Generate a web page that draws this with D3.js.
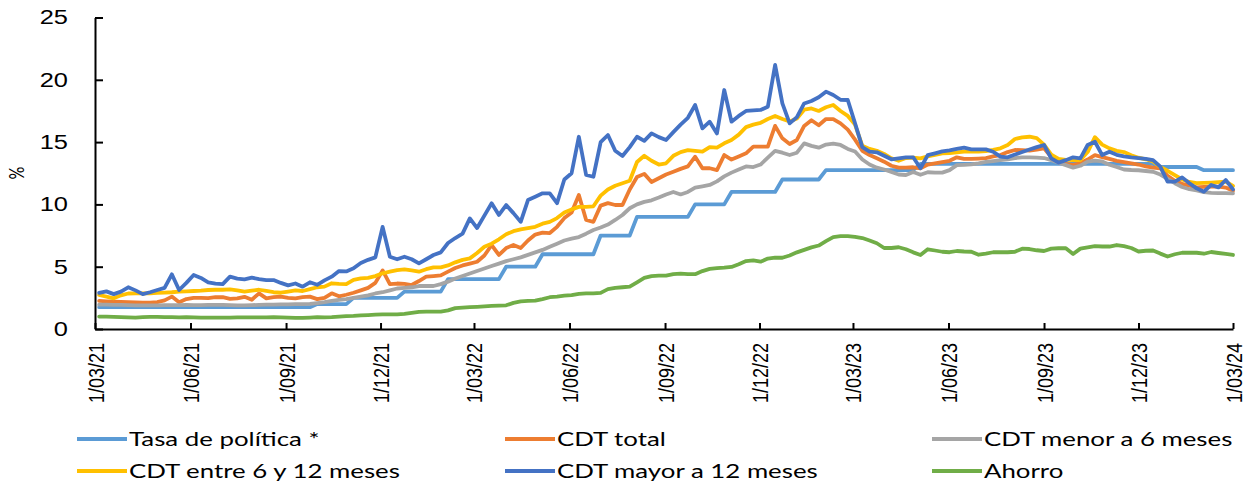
<!DOCTYPE html>
<html>
<head>
<meta charset="utf-8">
<script src="https://cdn.jsdelivr.net/npm/d3@7"></script>
<style>
  html, body { margin: 0; padding: 0; background: #fff; }
  svg { display: block; font-family: Lato, "Open Sans", sans-serif; }
</style>
</head>
<body>
<div id="chart"></div>
<script>
// weekly observations (Fridays), first one on 5 Mar 2021
var inicio = new Date(2021, 2, 5);

var tasaPolitica = [
  1.75,1.75,1.75,1.75,1.75,1.75,1.75,1.75,1.75,1.75,
  1.75,1.75,1.75,1.75,1.75,1.75,1.75,1.75,1.75,1.75,
  1.75,1.75,1.75,1.75,1.75,1.75,1.75,1.75,1.75,1.75,
  2,2,2,2,2,2.5,2.5,2.5,2.5,2.5,
  2.5,2.5,3,3,3,3,3,3,4,4,
  4,4,4,4,4,4,5,5,5,5,
  5,6,6,6,6,6,6,6,6,7.5,
  7.5,7.5,7.5,7.5,9,9,9,9,9,9,
  9,9,10,10,10,10,10,11,11,11,
  11,11,11,11,12,12,12,12,12,12,
  12.75,12.75,12.75,12.75,12.75,12.75,12.75,12.75,12.75,12.75,
  12.75,12.75,12.75,13.25,13.25,13.25,13.25,13.25,13.25,13.25,
  13.25,13.25,13.25,13.25,13.25,13.25,13.25,13.25,13.25,13.25,
  13.25,13.25,13.25,13.25,13.25,13.25,13.25,13.25,13.25,13.25,
  13.25,13.25,13.25,13.25,13.25,13.25,13,13,13,13,
  13,13,12.75,12.75,12.75,12.75,12.75
];

var cdtTotal = [
  2.25,2.22,2.19,2.17,2.15,2.13,2.11,2.12,2.15,2.3,
  2.6,2.15,2.4,2.5,2.5,2.48,2.55,2.55,2.42,2.45,
  2.58,2.35,2.86,2.46,2.55,2.6,2.5,2.46,2.55,2.6,
  2.4,2.5,2.86,2.62,2.75,2.91,3.1,3.3,3.7,4.7,
  3.6,3.65,3.62,3.53,3.85,4.2,4.25,4.3,4.6,4.9,
  5.1,5.25,5.4,5.9,6.74,5.94,6.5,6.74,6.5,7.1,
  7.58,7.73,7.7,8.2,8.9,9.35,10.75,8.75,8.6,9.9,
  10.1,9.95,9.95,11.2,12.2,12.45,11.8,12.1,12.4,12.62,
  12.85,13.05,13.83,12.9,12.9,12.75,13.96,13.6,13.85,14.1,
  14.63,14.63,14.63,16.3,15.3,14.85,15.17,16.3,16.75,16.35,
  16.85,16.85,16.5,16.0,15.2,14.3,13.96,13.7,13.43,13.1,
  12.95,12.95,12.98,12.9,13.2,13.3,13.4,13.5,13.78,13.66,
  13.65,13.68,13.72,13.85,13.96,14.2,14.37,14.35,14.32,14.4,
  14.5,13.8,13.4,13.25,13.18,13.3,13.6,13.96,13.8,13.65,
  13.5,13.4,13.3,13.2,13.05,12.95,12.9,12.3,11.9,11.65,
  11.5,11.37,11.4,11.42,11.42,11.35,11.1
];

var cdtMenor6 = [
  1.95,1.95,1.93,1.93,1.92,1.9,1.9,1.9,1.9,1.92,
  1.92,1.92,1.93,1.92,1.92,1.93,1.93,1.93,1.92,1.9,
  1.9,1.92,1.93,1.95,1.95,1.97,1.98,2.0,2.0,2.02,
  2.08,2.15,2.25,2.33,2.4,2.5,2.6,2.7,2.85,2.95,
  3.1,3.25,3.3,3.35,3.45,3.45,3.45,3.6,3.8,4.05,
  4.25,4.45,4.65,4.85,5.05,5.25,5.45,5.6,5.75,5.95,
  6.15,6.35,6.6,6.85,7.1,7.25,7.38,7.65,7.95,8.15,
  8.38,8.75,9.15,9.69,10.0,10.2,10.33,10.55,10.8,11.0,
  10.8,11.0,11.35,11.45,11.56,11.85,12.25,12.55,12.8,13.05,
  13.0,13.2,13.75,14.3,14.15,13.96,14.15,14.9,14.7,14.55,
  14.8,14.88,14.77,14.45,14.25,13.6,13.2,12.95,12.8,12.6,
  12.4,12.36,12.6,12.38,12.58,12.55,12.55,12.75,13.15,13.18,
  13.22,13.3,13.42,13.48,13.55,13.62,13.72,13.78,13.78,13.76,
  13.72,13.55,13.35,13.15,12.95,13.1,13.43,13.52,13.45,13.18,
  13.0,12.8,12.76,12.74,12.68,12.62,12.4,12.05,11.7,11.4,
  11.22,11.12,10.98,10.93,10.91,10.9,10.89
];

var cdtEntre6y12 = [
  2.73,2.6,2.46,2.7,2.85,2.86,2.86,2.86,2.9,2.92,
  2.95,3.0,3.02,3.05,3.08,3.13,3.15,3.15,3.18,3.1,
  3.0,3.08,3.15,3.05,2.95,2.91,3.0,3.1,3.05,3.2,
  3.35,3.4,3.67,3.62,3.6,3.95,4.07,4.1,4.25,4.47,
  4.6,4.73,4.79,4.7,4.6,4.8,4.95,4.95,5.1,5.35,
  5.55,5.67,6.1,6.6,6.85,7.2,7.6,7.85,8.0,8.1,
  8.2,8.45,8.6,8.9,9.35,9.6,9.8,9.8,9.85,10.7,
  11.2,11.5,11.7,11.9,13.4,13.9,13.5,13.2,13.3,13.9,
  14.2,14.35,14.3,14.23,14.6,14.55,14.9,15.17,15.6,16.2,
  16.4,16.55,16.85,17.1,16.85,16.65,16.9,17.6,17.7,17.5,
  17.8,17.98,17.5,17.1,16.4,14.7,14.45,14.3,14.05,13.7,
  13.5,13.72,13.75,13.7,13.85,13.98,14.1,14.12,14.18,14.23,
  14.23,14.23,14.28,14.37,14.5,14.77,15.25,15.38,15.43,15.32,
  14.8,14.0,13.65,13.58,13.56,13.56,14.2,15.4,14.8,14.5,
  14.3,14.2,13.95,13.75,13.62,13.45,13.0,12.7,12.35,12.0,
  11.8,11.7,11.72,11.75,11.78,11.82,11.48
];

var cdtMayor12 = [
  2.9,3.02,2.8,3.0,3.35,3.1,2.8,2.95,3.13,3.3,
  4.39,3.13,3.7,4.33,4.1,3.75,3.65,3.6,4.2,4.05,
  3.99,4.12,4.0,3.93,3.93,3.7,3.5,3.65,3.4,3.75,
  3.55,3.9,4.2,4.65,4.62,4.87,5.3,5.55,5.75,8.2,
  5.8,5.6,5.8,5.6,5.27,5.6,5.94,6.15,6.9,7.3,
  7.65,8.88,8.1,9.1,10.09,9.15,9.95,9.3,8.6,10.35,
  10.62,10.89,10.89,10.1,12.0,12.5,15.43,12.36,12.22,15.0,
  15.57,14.3,13.88,14.6,15.43,15.1,15.7,15.4,15.17,15.8,
  16.4,16.95,17.98,16.1,16.64,15.7,19.18,16.64,17.1,17.5,
  17.55,17.58,17.84,21.19,18.11,16.5,17.0,18.1,18.3,18.6,
  19.05,18.78,18.4,18.38,16.5,14.6,14.23,14.18,13.9,13.62,
  13.7,13.78,13.78,12.9,13.96,14.1,14.25,14.33,14.45,14.55,
  14.42,14.42,14.42,14.23,13.83,13.78,14.0,14.2,14.4,14.6,
  14.77,13.7,13.35,13.55,13.78,13.7,14.77,15.03,13.96,14.23,
  13.98,13.85,13.77,13.72,13.66,13.55,13.03,11.82,11.82,12.17,
  11.7,11.29,11.02,11.56,11.37,11.96,11.21
];

var ahorro = [
  1.0,1.0,0.98,0.95,0.93,0.92,0.95,0.97,0.97,0.96,
  0.95,0.93,0.95,0.93,0.92,0.92,0.92,0.92,0.92,0.93,
  0.93,0.93,0.93,0.93,0.95,0.93,0.92,0.9,0.9,0.92,
  0.95,0.93,0.95,1.0,1.03,1.05,1.1,1.12,1.15,1.18,
  1.18,1.18,1.22,1.3,1.38,1.4,1.4,1.4,1.5,1.68,
  1.72,1.75,1.78,1.82,1.85,1.88,1.9,2.1,2.22,2.25,
  2.27,2.4,2.55,2.6,2.68,2.72,2.82,2.86,2.86,2.9,
  3.2,3.3,3.35,3.4,3.75,4.1,4.25,4.28,4.28,4.4,
  4.45,4.4,4.4,4.65,4.82,4.88,4.92,4.98,5.2,5.45,
  5.5,5.4,5.65,5.72,5.72,5.9,6.15,6.35,6.55,6.7,
  7.05,7.38,7.45,7.46,7.4,7.3,7.1,6.88,6.5,6.5,
  6.56,6.4,6.15,5.94,6.4,6.3,6.2,6.16,6.26,6.22,
  6.2,5.96,6.05,6.16,6.16,6.16,6.2,6.45,6.42,6.32,
  6.26,6.45,6.48,6.48,6.02,6.45,6.55,6.65,6.62,6.62,
  6.74,6.65,6.5,6.22,6.28,6.3,6.05,5.82,6.0,6.12,
  6.12,6.12,6.04,6.18,6.1,6.02,5.94
];

var yTicks = [0, 5, 10, 15, 20, 25];

var series = [
  { name: "Tasa de política *",     values: tasaPolitica, color: "#5B9BD5" },
  { name: "CDT total",              values: cdtTotal,     color: "#ED7D31" },
  { name: "CDT menor a 6 meses",    values: cdtMenor6,    color: "#A5A5A5" },
  { name: "CDT entre 6 y 12 meses", values: cdtEntre6y12, color: "#FFC000" },
  { name: "CDT mayor a 12 meses",   values: cdtMayor12,   color: "#4472C4" },
  { name: "Ahorro",                 values: ahorro,       color: "#70AD47" }
];

var fechas = tasaPolitica.map(function (d, i) { return d3.timeDay.offset(inicio, 7 * i); });

var width = 1255, height = 483;
var SX = 1.27;   // the reference text is drawn wide
var SXL = 1.36;  // legend text a bit wider still

var svg = d3.select("#chart").append("svg").attr("width", width).attr("height", height);

var x = d3.scaleTime()
    .domain([new Date(2021, 2, 1), new Date(2024, 2, 1)])
    .range([95, 1233]);

var y = d3.scaleLinear().domain([0, 25]).range([329, 17.5]);

var xTicks = d3.timeMonth.range(new Date(2021, 2, 1), new Date(2024, 2, 2), 3);

var line = d3.line()
    .x(function (d, i) { return x(fechas[i]); })
    .y(function (d) { return y(d); });

svg.append("g")
    .selectAll("path")
    .data(series)
    .join("path")
    .attr("fill", "none")
    .attr("stroke", function (d) { return d.color; })
    .attr("stroke-width", 3.8)
    .attr("stroke-linejoin", "round")
    .attr("stroke-linecap", "round")
    .attr("d", function (d) { return line(d.values); });

var yAxis = d3.axisLeft(y).tickValues(yTicks).tickSizeInner(-8).tickSizeOuter(0);

var gy = svg.append("g")
    .attr("transform", "translate(95,0)")
    .call(yAxis);

gy.selectAll("text")
    .attr("x", null)
    .attr("transform", "translate(-27,0) scale(" + SX + ",1)")
    .style("font-size", "20px")
    .attr("fill", "#000");

var xAxis = d3.axisBottom(x)
    .tickValues(xTicks)
    .tickFormat(d3.timeFormat("%-d/%m/%y"))
    .tickSizeInner(-6)
    .tickSizeOuter(0);

var gx = svg.append("g")
    .attr("transform", "translate(0,329)")
    .call(xAxis);

gx.selectAll("text")
    .attr("y", null)
    .attr("dy", "0.35em")
    .attr("transform", "translate(0,14) scale(" + SX + ",1) rotate(-90)")
    .style("text-anchor", "end")
    .style("font-size", "18px")
    .attr("fill", "#000");

svg.selectAll(".domain, .tick line")
    .attr("stroke", "#000")
    .attr("stroke-width", 2);

svg.append("text")
    .attr("transform", "translate(24,173) scale(" + SX + ",1) rotate(-90)")
    .attr("text-anchor", "middle")
    .style("font-size", "16px")
    .attr("fill", "#000")
    .text("%");

// legend, two rows of three
var legendX = [77, 505, 932];
var legendY = [439, 471];

var legend = svg.append("g")
    .selectAll("g")
    .data(series)
    .join("g")
    .attr("transform", function (d, i) {
        return "translate(" + legendX[i % 3] + "," + legendY[Math.floor(i / 3)] + ")";
    });

legend.append("line")
    .attr("x1", 0).attr("x2", 50)
    .attr("stroke", function (d) { return d.color; })
    .attr("stroke-width", 3.8);

legend.append("text")
    .attr("transform", "translate(52,7) scale(" + SXL + ",1)")
    .style("font-size", "19px")
    .attr("fill", "#000")
    .text(function (d) { return d.name; });
</script>
</body>
</html>
